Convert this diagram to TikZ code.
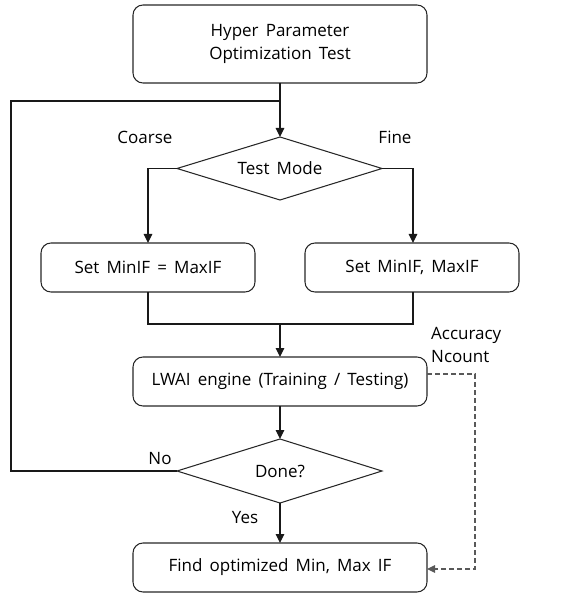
\documentclass[tikz,border=0pt]{standalone}
\usepackage{fontspec}
\setmainfont{Open Sans}
\usetikzlibrary{shapes.geometric,arrows.meta}
\newcommand\diagfont{\fontsize{17}{23}\selectfont\spaceskip=0.42em plus 0.1em\relax}
\begin{document}
\begin{tikzpicture}[x=1pt,y=-1pt,
  font=\diagfont,
  every node/.style={inner sep=0pt},
  proc/.style={draw=black!85,rounded corners=10pt,line width=1.05pt},
  dec/.style={draw=black!85,line width=1.05pt},
  flow/.style={draw=black!90,line width=1.1pt,-{Triangle[length=9pt,width=8.5pt]}},
  link/.style={draw=black!90,line width=1.1pt},
  dashlink/.style={line width=1.1pt,dash pattern=on 5pt off 3pt,black!65,-{Triangle[length=8pt,width=7.5pt]}}]
\useasboundingbox (0,0) rectangle (568,593);
% boxes
\draw[proc] (133,5) rectangle (427,83);
\node[align=center] (top) at (280,44) {Hyper Parameter\\Optimization Test};
\coordinate (topS) at (280,83);
\draw[dec] (280,137) -- (382,168.5) -- (280,200) -- (177,168.5) -- cycle;
\node (mode) at (280,168.5) {Test Mode};
\coordinate (modeN) at (280,137); \coordinate (modeW) at (177,168.5); \coordinate (modeE) at (382,168.5);
\draw[proc] (41,243) rectangle (255,292);
\node (coarse) at (148,267.5) {Set MinIF = MaxIF};
\draw[proc] (305,243) rectangle (519,292);
\node (fine) at (412,267.5) {Set MinIF, MaxIF};
\draw[proc] (133,357) rectangle (427,406);
\node (engine) at (280,381.5) {LWAI engine (Training / Testing)};
\draw[dec] (280,439) -- (382,471) -- (280,503) -- (177,471) -- cycle;
\node (done) at (280,471) {Done?};
\coordinate (doneN) at (280,439); \coordinate (doneS) at (280,503); \coordinate (doneW) at (177,471);
\draw[proc] (133,543) rectangle (427,592);
\node (find) at (280,567.5) {Find optimized Min, Max IF};
% connector points
\coordinate (loop) at (280,101);
\coordinate (cN) at (148,243); \coordinate (cS) at (148,292);
\coordinate (fN) at (413,243); \coordinate (fS) at (413,292);
\coordinate (merge) at (280,324);
\coordinate (eN) at (280,357); \coordinate (eS) at (280,406); \coordinate (eE) at (427,374);
\coordinate (findN) at (280,543); \coordinate (findE) at (427,569);
% connectors
\draw[flow] (topS) -- (modeN);
\draw[flow] (modeW) -| (cN);
\draw[flow] (modeE) -| (fN);
\draw[link] (cS) |- (merge) -| (fS);
\draw[flow] (merge) -- (eN);
\draw[flow] (eS) -- (doneN);
\draw[flow] (doneS) -- (findN);
\draw[link] (doneW) -- (11,471) -- (11,101) -- (loop);
\draw[dashlink] (eE) -- (475,374) -- (475,569) -- (findE);
% labels
\node at (145,137) {Coarse};
\node at (395,137) {Fine};
\node at (160,459) {No};
\node at (245,518) {Yes};
\node[align=left,anchor=west] at (431,345) {Accuracy\\Ncount};
\end{tikzpicture}
\end{document}
